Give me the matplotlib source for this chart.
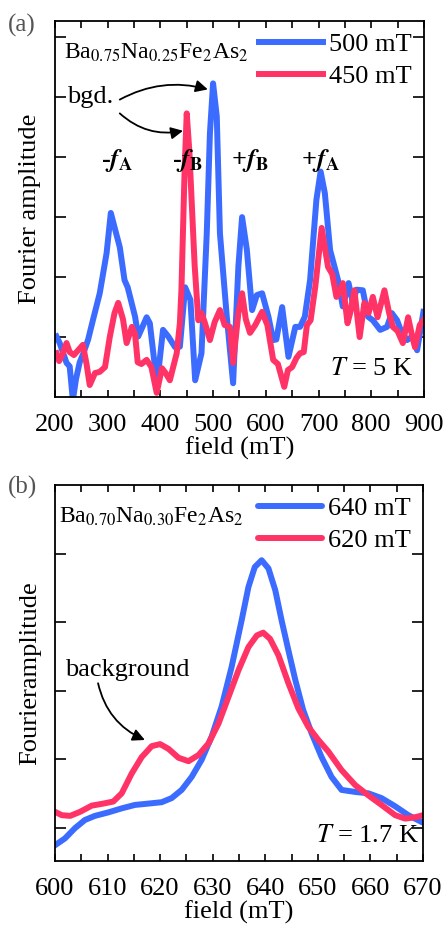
import matplotlib.pyplot as plt
from matplotlib.ticker import MultipleLocator

plt.rcParams['font.family'] = ['Liberation Serif', 'DejaVu Serif']
plt.rcParams['mathtext.fontset'] = 'stix'

BLUE = '#3b6cff'
RED = '#ff3366'
FS = 19

# Ba0.75Na0.25Fe2As2, T = 5 K
campo_500 = [203, 209, 222, 228, 234, 240, 247, 254, 263, 272, 285, 298, 306, 314, 323,
             332, 338, 352, 358, 374, 380, 392, 396, 405, 415, 428, 437, 447, 457, 466,
             478, 488, 494, 500, 507, 513, 526, 538, 548, 555, 564, 574, 583, 593, 605,
             614, 620, 631, 643, 656, 665, 674, 684, 696, 704, 712, 722, 737, 746, 757,
             765, 772, 784, 794, 803, 817, 830, 839, 849, 858, 868, 878, 887, 899]
amp_500 = [1.01, 0.90, 0.57, 0.51, -0.05, 0.30, 0.58, 0.73, 0.96, 1.28, 1.73, 2.40, 3.07, 2.80, 2.50,
           1.95, 1.83, 1.34, 1.01, 1.33, 1.23, 0.33, 0.40, 1.12, 1.01, 0.83, 0.84, 1.83, 1.62, 0.28,
           0.73, 2.73, 4.40, 5.23, 4.68, 2.73, 1.34, 0.23, 2.18, 3.00, 2.46, 1.45, 1.70, 1.73, 1.34,
           0.95, 0.96, 1.50, 0.67, 1.17, 1.17, 1.34, 1.95, 3.29, 3.76, 3.40, 2.45, 1.95, 1.51, 1.90,
           1.57, 1.79, 1.78, 1.34, 1.28, 1.12, 1.17, 1.40, 1.28, 1.07, 0.95, 1.01, 0.78, 1.42]

campo_450 = [203, 208, 213, 222, 228, 236, 241, 253, 260, 266, 276, 285, 295, 304, 313,
             320, 329, 336, 346, 352, 357, 364, 374, 383, 393, 403, 410, 418, 431, 437,
             440, 446, 450, 455, 465, 472, 478, 484, 494, 503, 513, 522, 532, 538, 548,
             555, 562, 570, 580, 593, 603, 614, 623, 635, 642, 650, 658, 665, 672, 678,
             685, 694, 706, 718, 726, 734, 740, 746, 755, 760, 768, 778, 787, 795, 803,
             812, 825, 834, 841, 850, 860, 870, 878, 883, 892, 899]
amp_450 = [0.73, 0.60, 0.68, 0.90, 0.75, 0.70, 0.75, 0.87, 0.55, 0.20, 0.40, 0.42, 0.50, 1.00, 1.40,
           1.57, 1.30, 0.90, 1.17, 1.05, 0.58, 0.55, 0.62, 0.50, 0.07, 0.48, 0.40, 0.28, 0.73, 1.23,
           1.80, 3.80, 4.73, 4.10, 2.20, 1.28, 1.40, 1.25, 0.95, 1.25, 1.45, 1.20, 1.17, 0.57, 1.40,
           1.73, 1.30, 1.07, 1.20, 1.42, 1.20, 0.62, 0.55, 0.17, 0.45, 0.50, 0.65, 0.73, 0.75, 1.20,
           1.28, 1.85, 2.82, 2.17, 2.05, 1.67, 1.75, 1.90, 1.23, 1.40, 1.78, 1.00, 1.57, 1.40, 1.67,
           1.33, 1.78, 1.40, 1.17, 1.10, 0.90, 1.33, 1.00, 0.83, 1.20, 1.28]

# Ba0.70Na0.30Fe2As2, T = 1.7 K
campo_640 = [600, 601.9, 603.8, 605.7, 607.6, 610.1, 612.7, 615.2, 617.8, 620.3, 622.2, 624.1,
             626.0, 627.9, 629.8, 631.7, 633.6, 635.5, 636.8, 638.0, 639.3, 640.6, 641.9,
             643.1, 644.4, 645.7, 647.2, 648.8, 650.7, 652.6, 654.5, 657.1, 659.6, 662.1,
             664.7, 667.2, 670]
amp_640 = [0.23, 0.33, 0.48, 0.60, 0.66, 0.71, 0.77, 0.82, 0.84, 0.86, 0.92, 1.04,
           1.23, 1.48, 1.82, 2.26, 2.84, 3.52, 4.01, 4.30, 4.40, 4.28, 3.96,
           3.52, 3.08, 2.65, 2.21, 1.87, 1.52, 1.23, 1.04, 1.01, 0.99, 0.92,
           0.80, 0.67, 0.56]

campo_620 = [600, 601.3, 602.9, 604.8, 607.0, 609.2, 611.1, 612.7, 614.6, 616.5, 618.4, 620.0,
             621.6, 623.5, 625.4, 627.3, 629.2, 631.1, 633.0, 634.9, 636.8, 638.4, 639.6,
             640.9, 642.5, 644.4, 646.3, 648.2, 650.1, 652.0, 654.5, 657.1, 659.6, 662.1,
             664.7, 666.6, 668.5, 670]
amp_620 = [0.72, 0.67, 0.66, 0.72, 0.81, 0.84, 0.87, 0.99, 1.28, 1.52, 1.68, 1.71,
           1.64, 1.51, 1.46, 1.55, 1.72, 2.01, 2.40, 2.79, 3.13, 3.30, 3.34,
           3.25, 3.01, 2.60, 2.23, 1.96, 1.77, 1.60, 1.33, 1.11, 0.96, 0.82,
           0.67, 0.62, 0.64, 0.67]

fig = plt.figure(figsize=(4.43, 9.27), dpi=100)
ax1 = fig.add_axes([0.124, 0.5717, 0.833, 0.4056])
ax2 = fig.add_axes([0.124, 0.0712, 0.831, 0.4056])


def estilo(ax):
    ax.tick_params(which='both', direction='in', top=True, right=True, width=1.2)
    ax.tick_params(axis='x', which='both', length=5, labelsize=FS, pad=12)
    ax.tick_params(axis='y', length=8, labelleft=False)
    for s in ax.spines.values():
        s.set_linewidth(1.3)
    ax.set_xlabel('field (mT)', fontsize=FS, labelpad=1)


# panel (a)
ax1.plot(campo_500, amp_500, color=BLUE, lw=4.3, solid_joinstyle='round', label='500 mT')
ax1.plot(campo_450, amp_450, color=RED, lw=4.3, solid_joinstyle='round', label='450 mT')
ax1.set_xlim(200, 900)
ax1.set_ylim(0, 6.27)
ax1.xaxis.set_major_locator(MultipleLocator(100))
ax1.xaxis.set_minor_locator(MultipleLocator(50))
ax1.set_yticks([1, 2, 3, 4, 5, 6])
estilo(ax1)
ax1.set_ylabel('Fourier amplitude', fontsize=FS, labelpad=10)
ax1.legend(loc='upper right', frameon=False, fontsize=FS, handlelength=2.4,
           handletextpad=0.25, labelspacing=0.3, borderaxespad=0.05)
ax1.text(0.025, 0.90, r'Ba$_{0.75}$Na$_{0.25}$Fe$_2$As$_2$', transform=ax1.transAxes,
         fontsize=17, va='baseline')
ax1.text(0.97, 0.058, r'$T$ = 5 K', transform=ax1.transAxes, fontsize=FS, ha='right',
         va='baseline')
ax1.text(223, 5.0, 'bgd.', fontsize=FS, va='center')
ax1.annotate('', xy=(490, 5.13), xytext=(323, 4.96),
             arrowprops=dict(arrowstyle='-|>', color='black', lw=1.3, shrinkA=0, shrinkB=0,
                             mutation_scale=18, connectionstyle='arc3,rad=-0.2'))
ax1.annotate('', xy=(443, 4.44), xytext=(323, 4.73),
             arrowprops=dict(arrowstyle='-|>', color='black', lw=1.3, shrinkA=0, shrinkB=0,
                             mutation_scale=18, connectionstyle='arc3,rad=0.25'))
for xp, lab in [(318, r'-$\mathbfit{f}_{\mathbf{A}}$'), (452, r'-$\mathbfit{f}_{\mathbf{B}}$'),
                (570, r'+$\mathbfit{f}_{\mathbf{B}}$'), (703, r'+$\mathbfit{f}_{\mathbf{A}}$')]:
    ax1.text(xp, 3.95, lab, fontsize=FS, fontweight='bold', ha='center', va='center')
fig.text(0.018, 0.973, '(a)', fontsize=18, color='#555555', va='center')

# panel (b)
ax2.plot(campo_640, amp_640, color=BLUE, lw=4.3, solid_joinstyle='round',
         solid_capstyle='round', label='640 mT')
ax2.plot(campo_620, amp_620, color=RED, lw=4.3, solid_joinstyle='round',
         solid_capstyle='round', label='620 mT')
ax2.set_xlim(600, 670)
ax2.set_ylim(0, 5.5)
ax2.xaxis.set_major_locator(MultipleLocator(10))
ax2.xaxis.set_minor_locator(MultipleLocator(5))
ax2.set_yticks([0.49, 1.49, 2.49, 3.49, 4.49])
estilo(ax2)
ax2.set_ylabel('Fourieramplitude', fontsize=FS, labelpad=10)
ax2.legend(loc='upper right', frameon=False, fontsize=FS, handlelength=2.4,
           handletextpad=0.25, labelspacing=0.3, borderaxespad=0.05)
ax2.text(0.012, 0.899, r'Ba$_{0.70}$Na$_{0.30}$Fe$_2$As$_2$', transform=ax2.transAxes,
         fontsize=17, va='baseline')
ax2.text(0.99, 0.05, r'$T$ = 1.7 K', transform=ax2.transAxes, fontsize=FS, ha='right',
         va='baseline')
ax2.text(601.9, 2.79, 'background', fontsize=FS, va='center')
ax2.annotate('', xy=(617.1, 1.77), xytext=(608.2, 2.6),
             arrowprops=dict(arrowstyle='-|>', color='black', lw=1.3, shrinkA=0, shrinkB=0,
                             mutation_scale=18, connectionstyle='arc3,rad=0.25'))
fig.text(0.018, 0.474, '(b)', fontsize=18, color='#555555', va='center')

fig.savefig('out.png', dpi=100)
